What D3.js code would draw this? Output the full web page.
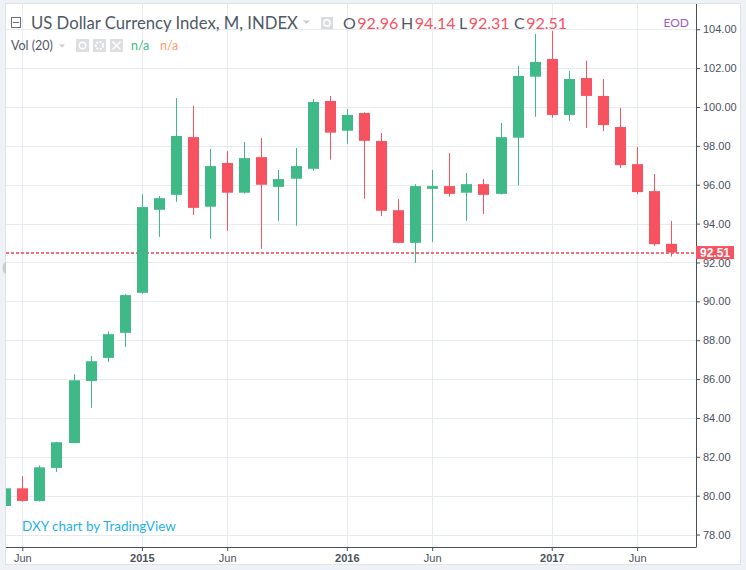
<!DOCTYPE html>
<html>
<head>
<meta charset="utf-8">
<script src="https://cdnjs.cloudflare.com/ajax/libs/d3/7.8.5/d3.min.js"></script>
<style>
  body { margin: 0; background: #eef1f5; }
  svg { display: block; }
</style>
</head>
<body>
<svg id="chart" width="746" height="570"></svg>
<script>
"use strict";

// monthly bars, May 2014 .. Aug 2017
let months = [
  "2014-05", "2014-06", "2014-07", "2014-08", "2014-09", "2014-10", "2014-11", "2014-12",
  "2015-01", "2015-02", "2015-03", "2015-04", "2015-05", "2015-06", "2015-07", "2015-08",
  "2015-09", "2015-10", "2015-11", "2015-12", "2016-01", "2016-02", "2016-03", "2016-04",
  "2016-05", "2016-06", "2016-07", "2016-08", "2016-09", "2016-10", "2016-11", "2016-12",
  "2017-01", "2017-02", "2017-03", "2017-04", "2017-05", "2017-06", "2017-07", "2017-08"
];
let opens = [
  79.47, 80.38, 79.73, 81.43, 82.71, 85.90, 87.09, 88.38,
  90.44, 94.71, 95.48, 98.45, 94.87, 97.12, 95.59, 97.42,
  95.89, 96.31, 96.82, 100.31, 98.78, 99.69, 98.25, 94.69,
  93.01, 95.79, 95.93, 95.59, 96.03, 95.53, 98.42, 101.56,
  102.47, 99.59, 101.49, 100.57, 98.97, 97.06, 95.67, 92.96
];
let highs = [
  80.50, 81.00, 81.56, 82.78, 86.25, 87.18, 88.46, 90.37,
  95.52, 95.42, 100.46, 100.07, 97.84, 97.73, 98.20, 98.40,
  96.76, 97.89, 100.41, 100.57, 99.90, 99.72, 98.66, 95.26,
  96.03, 96.76, 97.63, 96.60, 96.29, 99.18, 102.11, 103.76,
  103.91, 101.85, 102.38, 101.44, 99.95, 97.94, 96.55, 94.14
];
let lows = [
  79.30, 79.70, 79.70, 81.22, 82.70, 84.52, 86.88, 87.66,
  90.39, 93.32, 95.12, 94.44, 93.22, 93.63, 95.54, 92.70,
  94.14, 93.89, 96.72, 97.29, 98.11, 95.28, 94.40, 92.98,
  91.98, 93.06, 95.38, 94.14, 94.50, 95.50, 95.97, 99.50,
  99.45, 99.29, 98.92, 98.76, 96.86, 95.52, 92.84, 92.31
];
let closes = [
  80.38, 79.73, 81.46, 82.75, 85.94, 86.92, 88.31, 90.32,
  94.85, 95.31, 98.51, 94.81, 96.96, 95.59, 97.37, 96.00,
  96.29, 96.96, 100.26, 98.68, 99.59, 98.26, 94.66, 93.01,
  95.93, 95.93, 95.53, 96.03, 95.48, 98.45, 101.60, 102.32,
  99.59, 101.44, 100.57, 99.07, 97.01, 95.62, 92.94, 92.51
];
let priceTicks = [78, 80, 82, 84, 86, 88, 90, 92, 94, 96, 98, 100, 102, 104];
let timeTicks = [
  { month: "2014-06", label: "Jun", bold: false },
  { month: "2015-01", label: "2015", bold: true },
  { month: "2015-06", label: "Jun", bold: false },
  { month: "2016-01", label: "2016", bold: true },
  { month: "2016-06", label: "Jun", bold: false },
  { month: "2017-01", label: "2017", bold: true },
  { month: "2017-06", label: "Jun", bold: false }
];
let lastClose = closes[closes.length - 1];

let bars = months.map((m, i) => ({ m: m, i: i, o: opens[i], h: highs[i], l: lows[i], c: closes[i] }));

const UP = "#3fb987", DOWN = "#f7525f";
const plot = { left: 6, right: 696, top: 4, bottom: 547 };

let svg = d3.select("#chart");

// frame
svg.append("rect")
  .attr("x", 5.5).attr("y", 3.5)
  .attr("width", 735).attr("height", 561)
  .style("fill", "#fff")
  .style("stroke", "#e0e3e8");

let x = d3.scaleLinear().domain([0, months.length - 1]).range([5.2, 671.3]);
let y = d3.scaleLinear().domain([77.36, 105.3]).range([plot.bottom, plot.top]);

svg.append("clipPath").attr("id", "clip")
  .append("rect")
  .attr("x", plot.left).attr("y", plot.top)
  .attr("width", plot.right - plot.left).attr("height", plot.bottom - plot.top);

let grid = svg.append("g").attr("clip-path", "url(#clip)");
grid.selectAll("line.h").data(priceTicks).enter().append("line")
  .attr("x1", plot.left).attr("x2", plot.right)
  .attr("y1", d => Math.round(y(d)) + 0.5).attr("y2", d => Math.round(y(d)) + 0.5)
  .style("stroke", "#e6ebf0");
grid.selectAll("line.v").data(timeTicks).enter().append("line")
  .attr("x1", d => Math.round(x(months.indexOf(d.month))) + 0.5)
  .attr("x2", d => Math.round(x(months.indexOf(d.month))) + 0.5)
  .attr("y1", plot.top).attr("y2", plot.bottom)
  .style("stroke", "#e6ebf0");

// last price line (behind the candles)
svg.append("line")
  .attr("x1", plot.left).attr("x2", plot.right)
  .attr("y1", Math.round(y(lastClose))).attr("y2", Math.round(y(lastClose)))
  .style("stroke", "#f5404e")
  .style("stroke-width", 1.6)
  .style("stroke-dasharray", "3,2");

// candles
let candles = svg.append("g").attr("clip-path", "url(#clip)")
  .selectAll("g").data(bars).enter().append("g");

candles.append("line")
  .attr("x1", d => Math.round(x(d.i)) + 0.5)
  .attr("x2", d => Math.round(x(d.i)) + 0.5)
  .attr("y1", d => y(d.h))
  .attr("y2", d => y(d.l))
  .style("stroke", d => d.c >= d.o ? UP : DOWN);

candles.append("rect")
  .attr("x", d => Math.round(x(d.i)) - 5)
  .attr("width", 11)
  .attr("y", d => y(Math.max(d.o, d.c)))
  .attr("height", d => Math.max(1, Math.abs(y(d.o) - y(d.c))))
  .style("fill", d => d.c >= d.o ? UP : DOWN);

// price axis
let yAxis = d3.axisRight(y).tickValues(priceTicks).tickFormat(d3.format(".2f")).tickSize(4).tickPadding(3);
let yg = svg.append("g").attr("transform", `translate(${plot.right},0)`).call(yAxis);
yg.select(".domain").attr("d", `M0.5,${plot.top}V${plot.bottom}`).style("stroke", "#4a4e57");
yg.selectAll(".tick line").style("stroke", "#4a4e57");
yg.selectAll("text")
  .style("font-family", "'Liberation Sans', Arial, sans-serif")
  .style("font-size", "11px")
  .style("fill", "#4c525e");

// time axis
let xAxis = d3.axisBottom(x)
  .tickValues(timeTicks.map(d => months.indexOf(d.month)))
  .tickFormat((d, i) => timeTicks[i].label)
  .tickSize(4).tickPadding(3);
let xg = svg.append("g").attr("transform", `translate(0,${plot.bottom})`).call(xAxis);
xg.select(".domain").attr("d", `M${plot.left},0.5H${plot.right + 0.5}`).style("stroke", "#4a4e57");
xg.selectAll(".tick line").style("stroke", "#4a4e57");
xg.selectAll("text")
  .style("font-family", "'Liberation Sans', Arial, sans-serif")
  .style("font-size", "11px")
  .style("font-weight", (d, i) => timeTicks[i].bold ? "bold" : "normal")
  .style("fill", "#4c525e");

// last price label
let lp = svg.append("g").attr("transform", `translate(${plot.right},${y(lastClose)})`);
lp.append("rect").attr("x", 0).attr("y", -6.5).attr("width", 38).attr("height", 13).style("fill", DOWN);
lp.append("text").text(d3.format(".2f")(lastClose))
  .attr("x", 19).attr("y", 4.5)
  .attr("text-anchor", "middle")
  .style("font-family", "'Liberation Sans', Arial, sans-serif")
  .style("font-size", "12px").style("font-weight", "bold")
  .style("fill", "#fff");

// scroll handle on the left edge
svg.append("path").attr("d", "M6,262 A3.5,6 0 0 0 6,274 Z").style("fill", "#c9ccd1");

// legend
const legendFont = "Lato, 'Open Sans', sans-serif";
let legend = svg.append("g");
legend.append("rect").attr("x", 11.5).attr("y", 17.5).attr("width", 9).attr("height", 10)
  .style("fill", "none").style("stroke", "#6b6f76");
legend.append("line").attr("x1", 13).attr("x2", 19).attr("y1", 22.5).attr("y2", 22.5).style("stroke", "#6b6f76");
legend.append("text").text("US Dollar Currency Index, M, INDEX")
  .attr("x", 31).attr("y", 28.5)
  .style("font-family", legendFont).style("font-size", "16.7px").style("fill", "#4f5966");
legend.append("path").attr("d", "M303,20.5h7l-3.5,3.5z").style("fill", "#c8cbd0");
legend.append("rect").attr("x", 321).attr("y", 17).attr("width", 12).attr("height", 12).style("fill", "#d9dbde");
legend.append("circle").attr("cx", 327).attr("cy", 23).attr("r", 3.2).style("fill", "none").style("stroke", "#fff").style("stroke-width", 1.4);

let ohlc = [
  { k: "O", v: opens[opens.length - 1], x: 343 },
  { k: "H", v: highs[highs.length - 1], x: 401 },
  { k: "L", v: lows[lows.length - 1], x: 459 },
  { k: "C", v: lastClose, x: 514 }
];
let ohlcText = legend.selectAll("text.ohlc").data(ohlc).enter().append("text")
  .attr("class", "ohlc")
  .attr("x", d => d.x).attr("y", 28.5)
  .style("font-family", legendFont).style("font-size", "16px");
ohlcText.append("tspan").text(d => d.k).style("fill", "#4f5966");
ohlcText.append("tspan").text(d => d3.format(".2f")(d.v)).attr("dx", 1.5).style("fill", DOWN);

legend.append("text").text("EOD")
  .attr("x", 689).attr("y", 27).attr("text-anchor", "end")
  .style("font-family", legendFont).style("font-size", "12px").style("fill", "#a35bc4");

legend.append("text").text("Vol (20)")
  .attr("x", 11).attr("y", 49.5)
  .style("font-family", legendFont).style("font-size", "12.5px").style("fill", "#4f5966");
legend.append("path").attr("d", "M59,44.5h6l-3,3z").style("fill", "#c8cbd0");
[76, 93, 110].forEach((bx, k) => {
  legend.append("rect").attr("x", bx).attr("y", 39).attr("width", 13).attr("height", 13).style("fill", "#dcdee1");
  if (k === 0) {
    legend.append("circle").attr("cx", bx + 6.5).attr("cy", 45.5).attr("r", 3.2)
      .style("fill", "none").style("stroke", "#fff").style("stroke-width", 1.4);
  } else if (k === 1) {
    legend.append("circle").attr("cx", bx + 6.5).attr("cy", 45.5).attr("r", 3.6)
      .style("fill", "none").style("stroke", "#fff").style("stroke-width", 2).style("stroke-dasharray", "2,1.3");
  } else {
    legend.append("path").attr("d", `M${bx + 2.5},41.5L${bx + 10.5},49.5M${bx + 10.5},41.5L${bx + 2.5},49.5`)
      .style("stroke", "#fff").style("stroke-width", 1.4);
  }
});
legend.append("text").text("n/a").attr("x", 131).attr("y", 49.5)
  .style("font-family", legendFont).style("font-size", "12.5px").style("fill", "#3fb987");
legend.append("text").text("n/a").attr("x", 160).attr("y", 49.5)
  .style("font-family", legendFont).style("font-size", "12.5px").style("fill", "#ff9a6b");

// watermark
svg.append("text").text("DXY chart by TradingView")
  .attr("x", 22).attr("y", 531)
  .style("font-family", legendFont).style("font-size", "13.5px").style("fill", "#1fb1ea");
</script>
</body>
</html>
